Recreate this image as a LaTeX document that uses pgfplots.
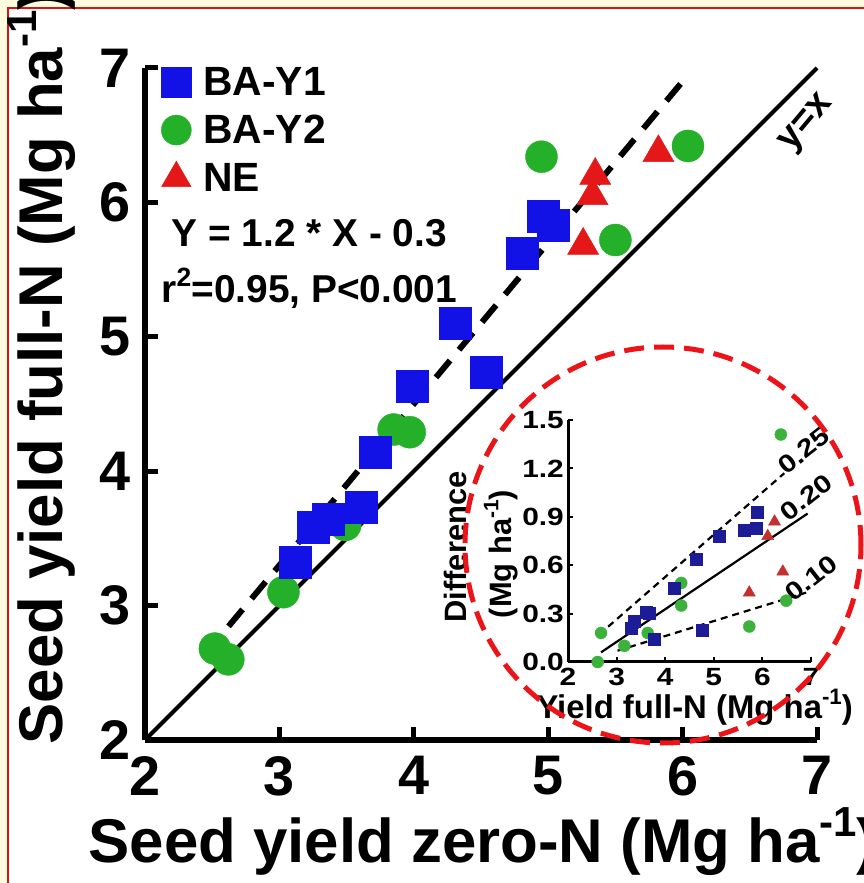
\documentclass[border=0pt]{standalone}
\usepackage{fontspec}
\setmainfont{Liberation Sans}
\newfontfamily\widefont[FakeStretch=1.2]{Liberation Sans}
\usepackage{pgfplots}
\pgfplotsset{compat=1.18}

\definecolor{bgyellow}{RGB}{253,252,222}
\definecolor{framered}{RGB}{215,20,20}
\definecolor{sqblue}{RGB}{18,18,230}
\definecolor{dotgreen}{RGB}{36,176,40}
\definecolor{trired}{RGB}{228,24,24}
\definecolor{insblue}{RGB}{28,28,150}
\definecolor{insgreen}{RGB}{60,178,60}
\definecolor{insred}{RGB}{196,48,48}
\definecolor{ringred}{RGB}{236,20,24}

\newcommand{\bigtick}{\fontsize{56}{60}\selectfont\bfseries}
\newcommand{\biglabel}{\fontsize{62}{66}\selectfont\bfseries}
\newcommand{\midtext}{\fontsize{41}{46}\selectfont\bfseries}
\newcommand{\insettick}{\widefont\fontsize{25}{27}\selectfont\bfseries}
\newcommand{\insetlabel}{\fontsize{31}{34}\selectfont\bfseries}
% raised exponent
\newcommand{\upx}[1]{\raisebox{0.42em}{\scalebox{0.68}{#1}}}

\begin{document}
\begin{tikzpicture}
% page background and frame
\begin{scope}[x=1bp,y=1bp]
\fill[bgyellow] (0,0) rectangle (864,883);
\fill[white] (8,0) rectangle (864,875);
\draw[framered, line width=1.3bp] (8,-2) -- (8,875) -- (866,875);
\end{scope}

% ---------------- main panel ----------------
\begin{axis}[
  at={(145bp,143bp)}, anchor=south west,
  scale only axis, width=672bp, height=672bp,
  xmin=2, xmax=7, ymin=2, ymax=7,
  axis x line*=bottom, axis y line*=left,
  axis line style={line width=6bp, black},
  xtick={2,...,7}, ytick={2,...,7},
  xtick pos=bottom, ytick pos=left,
  xtick align=inside, ytick align=inside,
  major tick length=13bp,
  every tick/.style={line width=5bp, black},
  /pgf/number format/assume math mode=true,
  ticklabel style={font=\bigtick},
  xticklabel style={inner sep=0pt, yshift=-16bp},
  yticklabel style={inner sep=0pt, xshift=-14bp},
  clip=false,
  legend cell align=left,
  legend style={at={(axis cs:2.12,7.02)}, anchor=north west, draw=none, fill=none,
    font=\midtext, inner sep=0pt, row sep=14bp},
]
\addlegendimage{only marks, mark=square*, mark size=15bp, sqblue}
\addlegendentry{\hspace{10bp}BA-Y1}
\addlegendimage{only marks, mark=*, mark size=15bp, dotgreen}
\addlegendentry{\hspace{10bp}BA-Y2}
\addlegendimage{only marks, mark=triangle*, mark size=17bp, trired}
\addlegendentry{\hspace{10bp}NE}

% 1:1 line
\addplot[forget plot, black, line width=4bp] coordinates {(2,2) (7,7)};

% BA-Y2
\addplot[forget plot, only marks, mark=*, mark size=16bp, dotgreen] coordinates {
  (2.52,2.68) (2.62,2.60) (3.03,3.10) (3.49,3.60) (3.85,4.31) (3.97,4.29)
  (4.95,6.34) (5.50,5.72) (6.04,6.42)
};
% NE
\addplot[forget plot, only marks, mark=triangle*, mark size=18bp, trired] coordinates {
  (5.26,5.68) (5.33,6.05) (5.35,6.20) (5.82,6.37)
};
% BA-Y1
\addplot[forget plot, only marks, mark=square*, mark size=16bp, sqblue] coordinates {
  (3.12,3.32) (3.25,3.58) (3.36,3.64) (3.61,3.73) (3.71,4.14) (3.99,4.63)
  (4.31,5.10) (4.54,4.74) (4.81,5.62) (4.96,5.90) (5.04,5.83)
};

% fitted regression Y = 1.2 X - 0.3
\addplot[forget plot, black, line width=6bp, dash pattern=on 22bp off 14bp] coordinates {(2.45,2.64) (6.05,6.96)};

\node[rotate=50, font=\fontsize{38}{40}\selectfont\bfseries] at (axis cs:6.93,6.58) {y=x};
\end{axis}

% ---------------- inset panel ----------------
\begin{axis}[
  at={(568bp,221bp)}, anchor=south west,
  scale only axis, width=243bp, height=242bp,
  xmin=2, xmax=7, ymin=0, ymax=1.5,
  axis x line*=bottom, axis y line*=left,
  axis line style={line width=3bp, black},
  xtick={2,...,7}, ytick={0,0.3,...,1.5},
  xtick pos=bottom, ytick pos=left,
  xtick align=inside, ytick align=inside,
  major tick length=5bp,
  every tick/.style={line width=2bp, black},
  /pgf/number format/assume math mode=true,
  /pgf/number format/fixed,
  /pgf/number format/fixed zerofill,
  /pgf/number format/precision=1,
  ticklabel style={font=\insettick},
  xticklabel style={inner sep=0pt, yshift=-6bp},
  yticklabel style={inner sep=0pt, xshift=-4bp},
  xticklabel={\pgfmathprintnumber[fixed, precision=0]{\tick}},
  clip=false,
]
\addplot[black, line width=2.2bp, dash pattern=on 7bp off 5bp] coordinates {(2.64,0.17) (6.45,1.17)};
\addplot[black, line width=2.2bp] coordinates {(2.68,0.06) (6.93,0.92)};
\addplot[black, line width=2.2bp, dash pattern=on 7bp off 5bp] coordinates {(3.02,0.07) (6.90,0.43)};

\addplot[only marks, mark=*, mark size=6bp, insgreen] coordinates {
  (2.61,0.00) (2.68,0.18) (3.16,0.10) (3.64,0.18) (4.33,0.49) (4.33,0.35)
  (5.73,0.22) (6.49,0.38) (6.38,1.41)
};
\addplot[only marks, mark=triangle*, mark size=7bp, insred] coordinates {
  (5.73,0.43) (6.11,0.78) (6.25,0.87) (6.42,0.56)
};
\addplot[only marks, mark=square*, mark size=6bp, insblue] coordinates {
  (3.30,0.21) (3.36,0.25) (3.60,0.31) (3.67,0.30) (3.78,0.14) (4.19,0.46)
  (4.63,0.64) (4.77,0.20) (5.11,0.78) (5.63,0.82) (5.87,0.83) (5.90,0.93)
};

\node[rotate=38, font=\insettick] at (axis cs:6.85,1.31) {0.25};
\node[rotate=38, font=\insettick] at (axis cs:6.90,1.02) {0.20};
\node[rotate=38, font=\insettick] at (axis cs:7.0,0.52) {0.10};
\end{axis}

\begin{scope}[x=1bp,y=1bp]
\node[anchor=base west, font=\fontsize{39}{42}\selectfont\bfseries] at (168,636) {Y = 1.2 * X - 0.3};
\node[anchor=base west, font=\fontsize{39}{42}\selectfont\bfseries] at (158,580) {r\upx{2}=0.95, P<0.001};

\node[anchor=base west, font=\biglabel] at (85,21) {Seed yield zero-N (Mg ha\upx{-1})};
\node[anchor=base west, rotate=90, font=\biglabel] at (62,135) {Seed yield full-N (Mg ha\upx{-1})};

\node[rotate=90, font=\insetlabel] at (455,336) {Difference};
\node[rotate=90, font=\insetlabel] at (501,329) {(Mg ha\upx{-1})};
\node[anchor=base west, font=\fontsize{33}{35}\selectfont\bfseries] at (533,165) {Yield full-N (Mg ha\upx{-1})};

% highlight ring round the inset
\draw[ringred, line width=5bp, dash pattern=on 20bp off 10bp] (663,338) circle[radius=198];
\end{scope}

% the page is exactly the framed area
\pgfresetboundingbox
\path[use as bounding box] (0,0) rectangle (864bp,883bp);
\end{tikzpicture}
\end{document}
